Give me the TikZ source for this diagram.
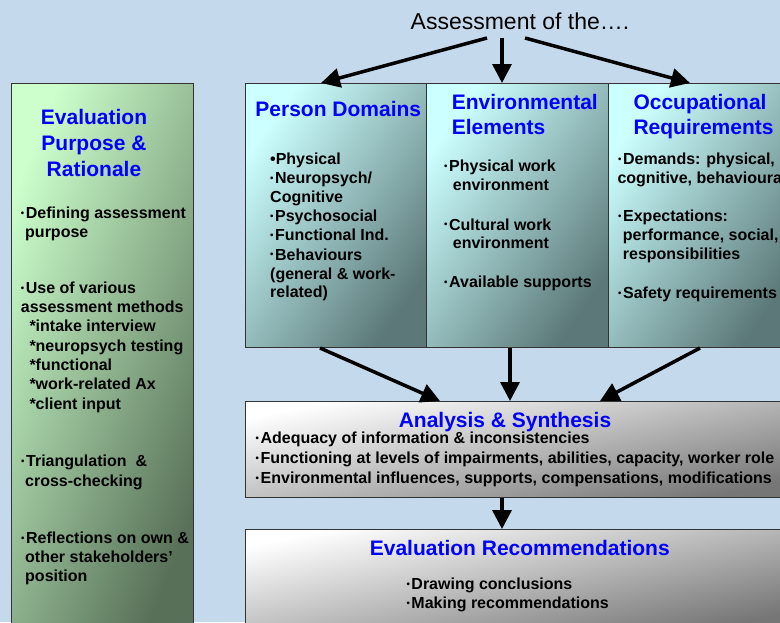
\documentclass[tikz,border=0pt]{standalone}
\usepackage{fontspec}
\setmainfont{Liberation Sans}
\usepackage{graphicx}
\usetikzlibrary{arrows.meta,calc}
\definecolor{bg}{RGB}{197,217,236}
\definecolor{hblue}{RGB}{0,0,255}
\definecolor{gL}{RGB}{204,255,204}
\definecolor{gD}{RGB}{88,112,88}
\definecolor{cL}{RGB}{204,255,255}
\definecolor{cD}{RGB}{92,120,120}
\definecolor{wL}{RGB}{255,255,255}
\definecolor{wD}{RGB}{118,118,118}
\newcommand{\bul}{\raisebox{0.13em}{\scalebox{0.6}{•}}\kern0.1em}
\newcommand{\bigbul}{•}
\begin{document}
\begin{tikzpicture}[x=1pt,y=-1pt,
  box/.style={draw=black!80, line width=1pt, anchor=north west, inner sep=0pt},
  gbox/.style={box, top color=gL, bottom color=gD},
  cbox/.style={box, top color=cL, bottom color=cD},
  wbox/.style={box, top color=wL, bottom color=wD},
  tx/.style={anchor=base west, inner sep=0pt, font=\bfseries\fontsize{16}{19}\selectfont},
  hd/.style={anchor=base, inner sep=0pt, text=hblue, font=\bfseries\fontsize{21}{25}\selectfont},
  hdw/.style={hd, anchor=base west},
  arr/.style={line width=3.5pt, -{Triangle[length=19pt,width=19pt]}}]
\fill[bg] (0,0) rectangle (780,622);
\useasboundingbox (0,0) rectangle (780,622);
\begin{scope}
\clip (0,0) rectangle (780,622);
\node[gbox, shading angle=68, minimum width=182pt, minimum height=545pt] (lb) at (11,83) {};
\node[cbox, shading angle=55, minimum width=181pt, minimum height=264pt] (pd) at (245,83) {};
\node[cbox, shading angle=55, minimum width=182pt, minimum height=264pt] (ee) at (426,83) {};
\node[cbox, shading angle=55, minimum width=185pt, minimum height=264pt] (oq) at (608,83) {};
\node[wbox, shading angle=12, minimum width=545pt, minimum height=96pt] (an) at (245,401) {};
\node[wbox, shading angle=12, minimum width=545pt, minimum height=100pt] (rc) at (245,529) {};
\end{scope}

% title
\node[anchor=base, inner sep=0pt, font=\fontsize{23}{27}\selectfont] (ttl) at (520,29.5) {Assessment of the….};
\coordinate (t1) at (487,38);
\coordinate (t2) at (502,38);
\coordinate (t3) at (525,38);
\draw[arr] (t1) -- ($(pd.north west)+(76,0)$);
\draw[arr] (t2) -- ($(ee.north west)+(76,0)$);
\draw[arr] (t3) -- ($(oq.north west)+(82,0)$);
\draw[arr] ($(pd.south west)+(75,0)$) -- ($(an.north west)+(195,0)$);
\draw[arr] ($(ee.south west)+(84,0)$) -- ($(an.north west)+(265,0)$);
\draw[arr] ($(oq.south west)+(92,0)$) -- ($(an.north west)+(355,0)$);
\draw[arr] ($(an.south west)+(257,0)$) -- ($(rc.north west)+(257,0)$);

% left box
\node[hd] (lbh1) at (94,124.3) {Evaluation};
\node[hd] (lbh2) at (94,150) {Purpose \&};
\node[hd] (lbh3) at (94,176) {Rationale};
\node[tx] (l1) at (20.7,218.3) {\bul Defining assessment};
\node[tx] (l2) at (25,237) {purpose};
\node[tx] (l3) at (20.7,293.3) {\bul Use of various};
\node[tx] (l4) at (20.7,312.3) {assessment methods};
\node[tx] (l5) at (29.3,331.7) {*intake interview};
\node[tx] (l6) at (29.3,351) {*neuropsych testing};
\node[tx] (l7) at (29.3,370) {*functional};
\node[tx] (l8) at (29.3,389.3) {*work-related Ax};
\node[tx] (l9) at (29.3,409) {*client input};
\node[tx] (l10) at (21,466.7) {\bul Triangulation \ \&};
\node[tx] (l11) at (25,486) {cross-checking};
\node[tx] (l12) at (21,543.3) {\bul Reflections on own \&};
\node[tx] (l13) at (25,562.3) {other stakeholders’};
\node[tx] (l14) at (25,581.7) {position};

% person domains
\node[hd] (pdh) at (338.3,116.7) {Person Domains};
\node[tx] (p1) at (270,164.3) {\bigbul Physical};
\node[tx] (p2) at (270,183.7) {\bul Neuropsych/};
\node[tx] (p3) at (270,202.7) {Cognitive};
\node[tx] (p4) at (270,221.7) {\bul Psychosocial};
\node[tx] (p5) at (270,240.7) {\bul Functional Ind.};
\node[tx] (p6) at (270,260) {\bul Behaviours};
\node[tx] (p7) at (270,279) {(general \& work-};
\node[tx] (p8) at (270,297.7) {related)};

% environmental elements
\node[hdw] (eeh1) at (451.7,109.3) {Environmental};
\node[hdw] (eeh2) at (451.7,134.3) {Elements};
\node[tx] (e1) at (444,171.7) {\bul Physical work};
\node[tx] (e2) at (452.7,190) {environment};
\node[tx] (e3) at (444,230) {\bul Cultural work};
\node[tx] (e4) at (452.7,248.3) {environment};
\node[tx] (e5) at (444,287.3) {\bul Available supports};

% occupational requirements
\begin{scope}
\clip (0,0) rectangle (780,622);
\node[hdw] (oqh1) at (633.3,109.3) {Occupational};
\node[hdw] (oqh2) at (633.3,134.3) {Requirements};
\node[tx] (o1) at (618,164.3) {\bul Demands: physical,};
\node[tx] (o2) at (617.3,183.3) {cognitive, behavioural};
\node[tx] (o3) at (618,221.7) {\bul Expectations:};
\node[tx] (o4) at (622.7,240.7) {performance, social,};
\node[tx] (o5) at (622.7,259.3) {responsibilities};
\node[tx] (o6) at (618,298.3) {\bul Safety requirements};

% analysis
\node[hd] (anh) at (505,427.3) {Analysis \& Synthesis};
\node[tx] (a1) at (255.5,443.9) {\bul Adequacy of information \& inconsistencies};
\node[tx] (a2) at (255.5,463.9) {\bul Functioning at levels of impairments, abilities, capacity, worker role};
\node[tx] (a3) at (255.5,483.2) {\bul Environmental influences, supports, compensations, modifications};

% recommendations
\node[hd] (rch) at (519.8,555.3) {Evaluation Recommendations};
\node[tx] (r1) at (406.3,589.2) {\bul Drawing conclusions};
\node[tx] (r2) at (406.3,608.5) {\bul Making recommendations};
\end{scope}
\end{tikzpicture}
\end{document}
